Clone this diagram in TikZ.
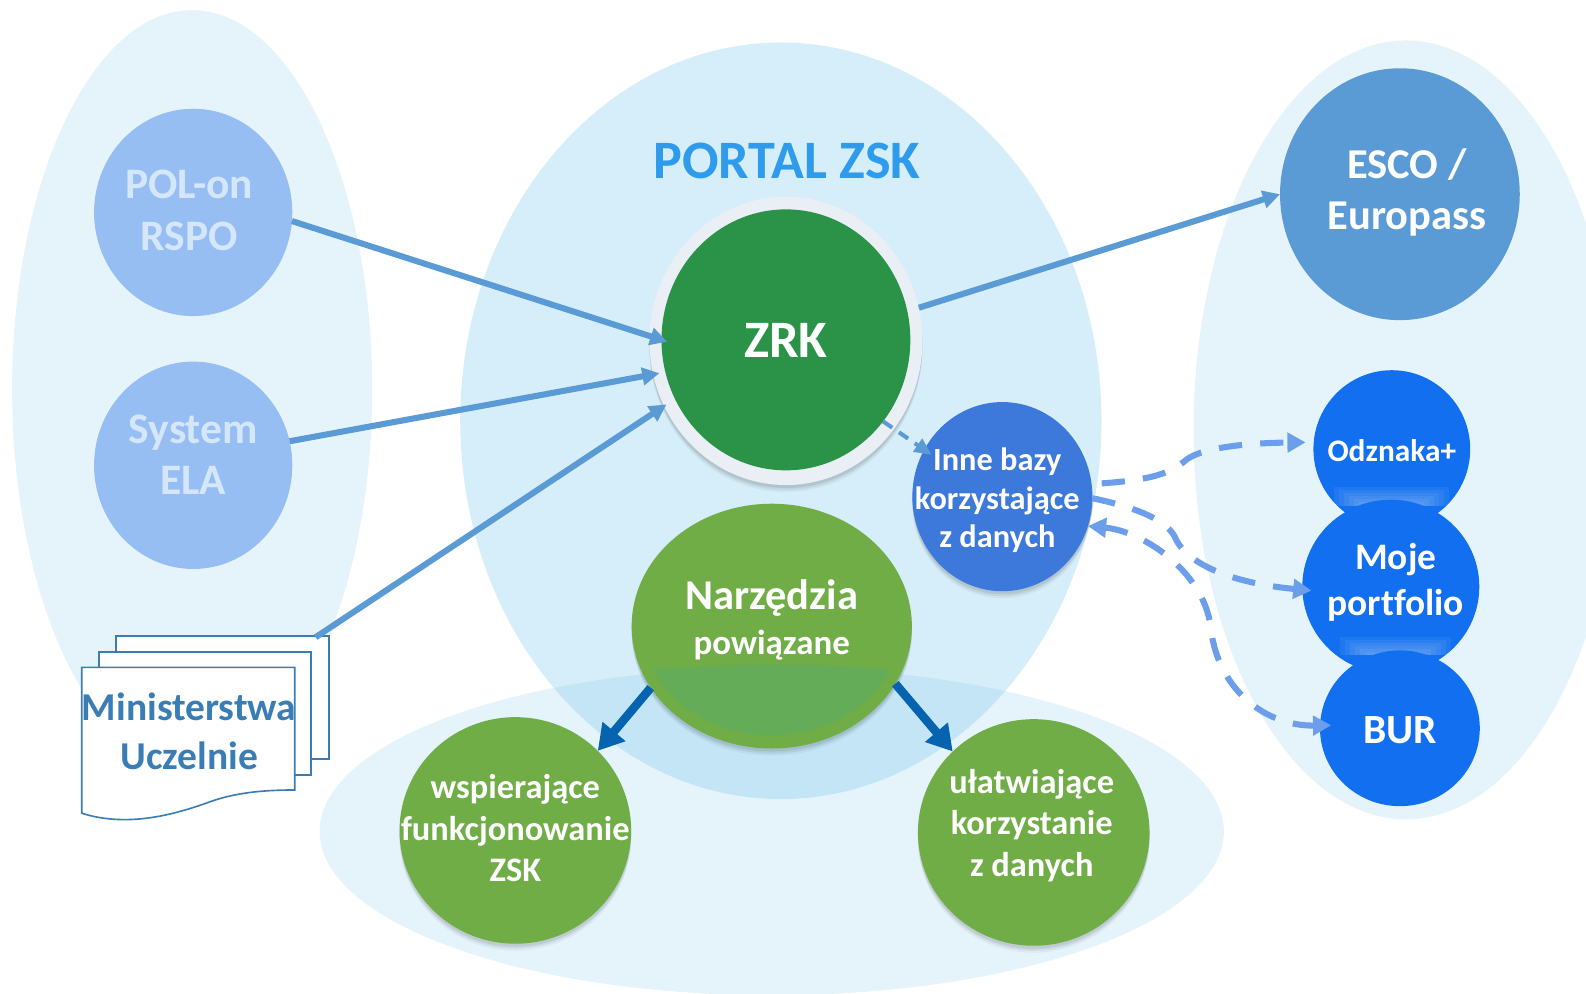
\documentclass[tikz,border=0pt]{standalone}
\usepackage{fontspec}
\setmainfont{Carlito}[Ligatures=NoCommon]
\usetikzlibrary{shapes.geometric,arrows.meta,shadows}
\definecolor{halo}{HTML}{E5F4FB}
\definecolor{portal}{HTML}{D6EEF9}
\definecolor{lowblue}{HTML}{73C3EB}
\definecolor{srcblue}{HTML}{97BEF2}
\definecolor{srctext}{HTML}{D4E6F9}
\definecolor{escoblue}{HTML}{5B9BD5}
\definecolor{zrkgreen}{HTML}{2A9348}
\definecolor{innefill}{HTML}{3D78DB}
\definecolor{brightblue}{HTML}{1270F0}
\definecolor{leaf}{HTML}{70AD47}
\definecolor{leafover}{HTML}{64AC58}
\definecolor{darkarrow}{HTML}{0563B0}
\definecolor{dashblue}{HTML}{6D9EEB}
\definecolor{docblue}{HTML}{3A7DB5}
\definecolor{titleblue}{HTML}{2E9BEC}
\definecolor{ringcol}{HTML}{E9EFF4}
\tikzset{
  x=1pt,y=-1pt,
  blob/.style n args={2}{ellipse,minimum width=#1pt,minimum height=#2pt,inner sep=0pt,outer sep=0pt,align=center,text=white},
  softsh/.style={
    general shadow={shadow yshift=-7pt,fill=black,opacity=.04},
    general shadow={shadow yshift=-5pt,fill=black,opacity=.06},
    general shadow={shadow yshift=-3pt,fill=black,opacity=.08}},
  solidarrow/.style={draw=escoblue,line width=6pt,-{Triangle[length=17pt,width=17pt]}},
  thindash/.style={draw=escoblue,line width=4pt,dash pattern=on 11pt off 8pt,-{Triangle[length=17pt,width=15pt]}},
  darkarr/.style={draw=darkarrow,line width=8.5pt,-{Triangle[length=25pt,width=28pt]}},
  dasharr/.style={draw=dashblue,line width=6pt,dash pattern=on 23pt off 18pt,-{Triangle[length=18pt,width=19pt]}},
  pagesheet/.style={draw=docblue,line width=1.6pt,fill=white},
  bandlight/.style={fill=white,opacity=.06},
}
\newcommand{\fs}[2]{\fontsize{#1}{#2}\selectfont}
% text centred on the node without affecting its size: dx (pt), dy up (pt), body
\newcommand{\ctext}[3]{\kern#1pt\makebox[0pt]{\raisebox{\dimexpr#2pt-.25em\relax}[0pt][0pt]{\begin{tabular}{@{}c@{}}#3\end{tabular}}}\kern-#1pt}
\begin{document}
\begin{tikzpicture}
\clip (0,0) rectangle (1568,982);
% halo regions
\fill[halo] (190,385) ellipse [x radius=178,y radius=375];
\fill[portal] (772,416) ellipse [x radius=317,y radius=374];
\fill[halo] (1390,425) ellipse [x radius=210,y radius=385];
\fill[lowblue,opacity=.19] (763,822) ellipse [x radius=447,y radius=162];

\node[font=\bfseries\fs{53.5}{56},text=titleblue] (title) at (778,159) {PORTAL ZSK};

% document stack
\draw[pagesheet] (114.4,628.5) rectangle (325,750.4);
\draw[pagesheet] (97.9,644.3) rectangle (307.2,766.2);
\draw[pagesheet] (80.8,659.8) -- (291.4,659.8) -- (291.4,781)
  .. controls (250,781) and (225,786) .. (204,794)
  .. controls (170,806) and (125,818) .. (80.8,804) -- cycle;
\node[font=\bfseries\fs{39}{48},text=docblue,align=center,inner sep=0pt] (docs) at (187,723) {Ministerstwa\\Uczelnie};
\coordinate (docsout) at (312,630);

% source and target nodes
\node[blob={196}{205},fill=srcblue,font=\bfseries\fs{43}{51},text=srctext] (pol) at (191,210) {\ctext{-4}{2.5}{POL-on\\RSPO}};
\node[blob={196}{205},fill=srcblue,font=\bfseries\fs{43}{51},text=srctext] (ela) at (191,460) {\ctext{0}{11}{System\\ELA}};
\node[blob={237}{249},fill=escoblue,font=\bfseries\fs{42}{51}] (esco) at (1384,192) {\ctext{7}{5}{ESCO /\\Europass}};

\node[blob={270}{285},fill=ringcol,softsh] (ring) at (777,337) {};
\node[blob={246}{258},fill=zrkgreen,font=\bfseries\fs{52}{52}] (zrk) at (777,336) {\ctext{0}{0}{ZRK}};

\node[blob={178}{187},fill=innefill,softsh,font=\bfseries\fs{32}{38}] (inne) at (991,491) {\ctext{-5}{-3}{Inne bazy\\korzystające\\z danych}};

\node[blob={229}{224},fill=leaf,softsh,font=\bfseries\fs{34}{41}] (wsp) at (509.5,821) {\ctext{0}{1}{wspierające\\funkcjonowanie\\ZSK}};
\node[blob={229}{224},fill=leaf,softsh,font=\bfseries\fs{34}{41}] (ula) at (1022,823) {\ctext{-2}{8}{ułatwiające\\korzystanie\\z danych}};

% Narzedzia with the lighter inner overlap
\node[blob={277}{242},fill=leaf,softsh] (narz) at (763,619) {};
\begin{scope}
  \clip (763,618) ellipse [x radius=128,y radius=109];
  \fill[leafover] (763,822) ellipse [x radius=470,y radius=165];
\end{scope}
\node[text=white,align=center,inner sep=0pt,font=\bfseries\fs{42}{44}] (narzt) at (763,613) {Narzędzia\\{\fs{34.5}{44}powiązane}};

% right-hand blue circles
\node[blob={155}{156},fill=brightblue,font=\bfseries\fs{31}{38}] (odz) at (1376,444) {\ctext{0}{-3}{Odznaka+}};
\begin{scope}
  \clip (1376,444) ellipse [x radius=77.5,y radius=78];
  \foreach \i in {0,...,5}
    \fill[bandlight] (1319+\i*5,481+\i*3) rectangle (1433-\i*5,500);
\end{scope}
\node[blob={175}{172},fill=brightblue,font=\bfseries\fs{37}{45}] (moje) at (1375,580) {\ctext{5}{6.5}{Moje\\portfolio}};
\begin{scope}
  \clip (1375,580) ellipse [x radius=87.5,y radius=86];
  \foreach \i in {0,...,5}
    \fill[bandlight] (1325+\i*5,630+\i*3) rectangle (1435-\i*5,648);
\end{scope}
\node[blob={158}{154},fill=brightblue,font=\bfseries\fs{41}{41}] (bur) at (1384,720) {\ctext{0}{-3}{BUR}};

% connectors
\draw[solidarrow,shorten >=-6pt] (pol.-5) -- (zrk.180);
\draw[solidarrow,shorten >=6pt] (ela.14.6) -- (zrk.195);
\draw[solidarrow,shorten >=10pt] (docsout) -- (zrk.208);
\draw[solidarrow] (ring.14) -- (esco.180);
\draw[thindash,shorten >=-9pt] (zrk.-40) -- (inne.149);
\draw[darkarr] (narz.207.7) -- (wsp.44.5);
\draw[darkarr] (narz.-25.4) -- (ula.135);
\draw[dasharr,shorten <=10pt,shorten >=8pt] (inne.8)
  .. controls (1130,475) and (1155,470) .. (1171,456)
  .. controls (1185,443) and (1230,438) .. (odz.175);
\draw[dasharr,shorten >=-9pt] (inne.-1)
  .. controls (1115,500) and (1155,512) .. (1163,534)
  .. controls (1172,552) and (1205,575) .. (moje.182);
\draw[dasharr,{Triangle[length=18pt,width=19pt]}-{Triangle[length=18pt,width=19pt]},shorten >=-11pt] (inne.-19)
  .. controls (1130,525) and (1190,565) .. (1197,620)
  .. controls (1203,680) and (1250,718) .. (bur.178);
\end{tikzpicture}
\end{document}
